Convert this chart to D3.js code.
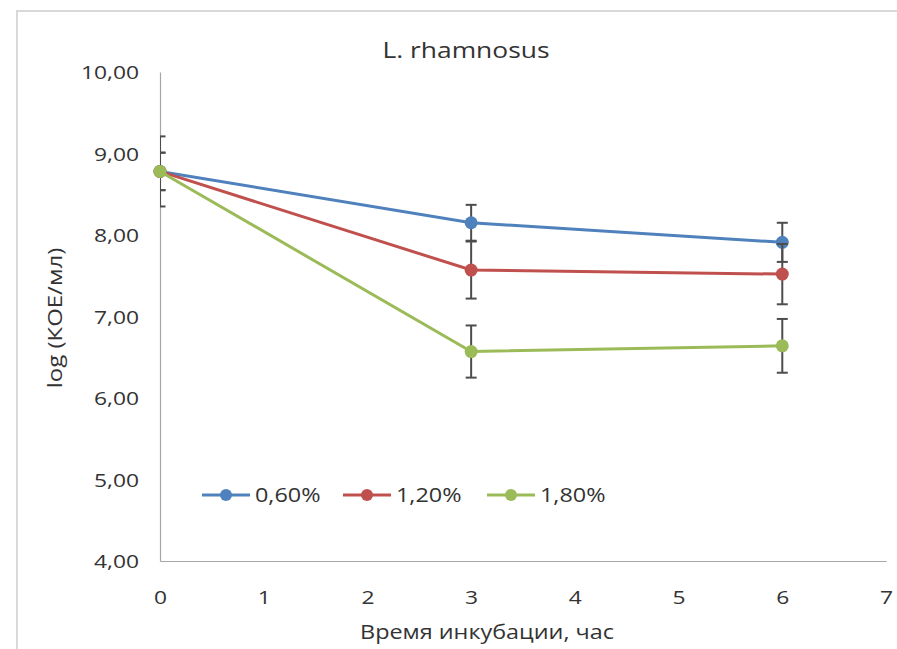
<!DOCTYPE html>
<html>
<head>
<meta charset="utf-8">
<script src="https://cdn.jsdelivr.net/npm/d3@7"></script>
<style>
  body { margin: 0; background: #fff; }
  text { font-family: "Open Sans", sans-serif; fill: #333333; }
</style>
</head>
<body>
<svg id="chart" width="897" height="649"></svg>
<script>
// chart values
const times = [0, 3, 6];
const seriesNames = ["0,60%", "1,20%", "1,80%"];
const seriesColors = ["#4F81BD", "#C0504D", "#9BBB59"];
const values060 = [8.78, 8.15, 7.91];
const errors060 = [0.23, 0.22, 0.24];
const values120 = [8.78, 7.57, 7.52];
const errors120 = [0.43, 0.35, 0.37];
const values180 = [8.78, 6.57, 6.64];
const errors180 = [0.23, 0.32, 0.33];
const xTicks = [0, 1, 2, 3, 4, 5, 6, 7];
const yTicks = [4, 5, 6, 7, 8, 9, 10];

const series = [
  { name: seriesNames[0], color: seriesColors[0], values: values060, errors: errors060 },
  { name: seriesNames[1], color: seriesColors[1], values: values120, errors: errors120 },
  { name: seriesNames[2], color: seriesColors[2], values: values180, errors: errors180 }
];

const svg = d3.select("#chart");
const stretch = 1.2; // the text in the source is a bit wide

// outer frame
svg.append("rect")
    .attr("x", 17)
    .attr("y", 11)
    .attr("width", 900)
    .attr("height", 660)
    .attr("fill", "none")
    .attr("stroke", "#d9d9d9")
    .attr("stroke-width", 2);

const xScale = d3.scaleLinear().domain([0, 7]).range([160, 886]);
const yScale = d3.scaleLinear().domain([4, 10]).range([561, 72]);

const fmt = d => d3.format(".2f")(d).replace(".", ",");

// y axis
const yAxis = svg.append("g")
    .attr("transform", `translate(${xScale(0)},0)`)
    .call(d3.axisLeft(yScale).tickValues(yTicks).tickSize(0).tickPadding(0).tickFormat(fmt));
yAxis.select(".domain").attr("stroke", "#a6a6a6").attr("stroke-width", 1.2);
yAxis.selectAll(".tick text")
    .attr("x", 0)
    .attr("dy", "0.35em")
    .attr("transform", `translate(-21,0) scale(${stretch},1)`)
    .style("font-size", "19px")
    .style("font-family", "'Open Sans', sans-serif")
    .attr("fill", "#333333");

// x axis
const xAxis = svg.append("g")
    .attr("transform", `translate(0,${yScale(4)})`)
    .call(d3.axisBottom(xScale).tickValues(xTicks).tickSize(0).tickPadding(0).tickFormat(d3.format("d")));
xAxis.select(".domain").attr("stroke", "#a6a6a6").attr("stroke-width", 1.2);
xAxis.selectAll(".tick text")
    .attr("y", 0)
    .attr("dy", "0.35em")
    .attr("transform", `translate(0,36) scale(${stretch},1)`)
    .style("font-size", "19px")
    .style("font-family", "'Open Sans', sans-serif")
    .attr("fill", "#333333");

// titles
const addText = (x, y, txt, size, rotate) => {
  svg.append("text")
      .attr("transform", `translate(${x},${y}) rotate(${rotate || 0}) scale(${stretch},1)`)
      .attr("text-anchor", "middle")
      .attr("dy", "0.35em")
      .style("font-size", size + "px")
      .text(txt);
};
addText(466, 50, "L. rhamnosus", 22);
addText(487, 632, "Время инкубации, час", 19.5);
svg.append("text")
    .attr("transform", `translate(55,318) rotate(-90) scale(${stretch},1)`)
    .attr("text-anchor", "middle")
    .attr("dy", "0.35em")
    .style("font-size", "20px")
    .text("log (КОЕ/мл)");

// clip for the error bars so the caps at x=0 are cut at the axis
svg.append("clipPath").attr("id", "plot-clip")
  .append("rect")
    .attr("x", xScale(0))
    .attr("y", 0)
    .attr("width", xScale(7) - xScale(0))
    .attr("height", yScale(4));

const line = d3.line()
    .x((d, i) => xScale(times[i]))
    .y(d => yScale(d));

series.forEach(s => {
  const g = svg.append("g").attr("class", "series");

  g.append("path")
      .attr("d", line(s.values))
      .attr("fill", "none")
      .attr("stroke", s.color)
      .attr("stroke-width", 3);

  const bars = g.append("g").attr("clip-path", "url(#plot-clip)");
  s.values.forEach((v, i) => {
    const x = xScale(times[i]);
    const y1 = yScale(v + s.errors[i]);
    const y2 = yScale(v - s.errors[i]);
    bars.append("line")
        .attr("x1", x).attr("x2", x)
        .attr("y1", y1).attr("y2", y2)
        .attr("stroke", "#4d4d4d").attr("stroke-width", 2);
    [y1, y2].forEach(yc => {
      bars.append("line")
          .attr("x1", x - 5.5).attr("x2", x + 5.5)
          .attr("y1", yc).attr("y2", yc)
          .attr("stroke", "#4d4d4d").attr("stroke-width", 2);
    });
  });

  g.selectAll("circle")
    .data(s.values)
    .join("circle")
      .attr("cx", (d, i) => xScale(times[i]))
      .attr("cy", d => yScale(d))
      .attr("r", 6.5)
      .attr("fill", s.color);
});

// legend
const legendX = [202, 343, 487];
const legendY = 495;
series.forEach((s, i) => {
  const lg = svg.append("g").attr("transform", `translate(${legendX[i]},${legendY})`);
  lg.append("line")
      .attr("x1", 0).attr("x2", 48)
      .attr("y1", 0).attr("y2", 0)
      .attr("stroke", s.color)
      .attr("stroke-width", 3);
  lg.append("circle")
      .attr("cx", 24).attr("cy", 0).attr("r", 6)
      .attr("fill", s.color);
  lg.append("text")
      .attr("transform", `translate(53,0) scale(${stretch},1)`)
      .attr("dy", "0.35em")
      .style("font-size", "19.5px")
      .text(s.name);
});
</script>
</body>
</html>
